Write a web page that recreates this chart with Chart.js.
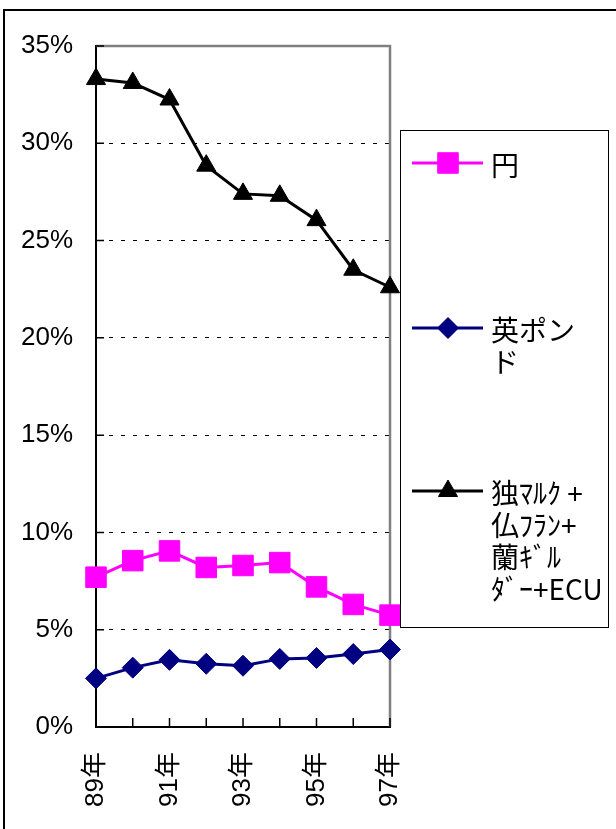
<!DOCTYPE html>
<html lang="ja">
<head>
<meta charset="UTF-8">
<title>通貨別シェア</title>
<script src="https://cdn.jsdelivr.net/npm/chart.js"></script>
<style>
  html, body { margin: 0; padding: 0; background: #fff; }
  #wrap { position: relative; width: 616px; height: 829px; overflow: hidden; }
  #frame { position: absolute; left: 3px; top: 9px; width: 700px; height: 900px; border: 2px solid #000; box-sizing: border-box; }
  #chart { position: absolute; left: 0; top: 0; }
</style>
</head>
<body>
<div id="wrap">
  <div id="frame"></div>
  <canvas id="chart" width="616" height="829"></canvas>
</div>
<script>
  const years = ['89年', '90年', '91年', '92年', '93年', '94年', '95年', '96年', '97年'];
  const yen = [7.7, 8.55, 9.05, 8.2, 8.3, 8.45, 7.2, 6.3, 5.75];
  const pound = [2.5, 3.05, 3.45, 3.25, 3.15, 3.5, 3.55, 3.75, 3.98];
  const markEtc = [33.3, 33.1, 32.25, 28.85, 27.4, 27.3, 26.05, 23.5, 22.6];
  const seriesNames = ['円', '英ポンド', '独ﾏﾙｸ +仏ﾌﾗﾝ+蘭ｷﾞﾙﾀﾞｰ+ECU'];
  const legendLines = [['円'], ['英ポン', 'ド'], ['独ﾏﾙｸ +', '仏ﾌﾗﾝ+', '蘭ｷﾞﾙ', 'ﾀﾞｰ+ECU']];
  const yMax = 35;
  const yStep = 5;

  const tickFont = { family: "'Liberation Sans', 'Noto Sans CJK JP', sans-serif", size: 26 };
  const legendFont = "28px 'Noto Sans CJK JP', sans-serif";

  // plot frame (gray top/right) and inward tick marks like Excel
  const excelFrame = {
    id: 'excelFrame',
    beforeDatasetsDraw(chart) {
      const { ctx, chartArea: a, scales } = chart;
      ctx.save();
      ctx.strokeStyle = '#808080';
      ctx.lineWidth = 2.5;
      ctx.beginPath();
      ctx.moveTo(a.left, a.top);
      ctx.lineTo(a.right, a.top);
      ctx.lineTo(a.right, a.bottom);
      ctx.stroke();

      ctx.strokeStyle = '#000';
      ctx.lineWidth = 1.5;
      ctx.beginPath();
      scales.y.ticks.forEach((t, i) => {
        const y = scales.y.getPixelForTick(i);
        ctx.moveTo(a.left, y);
        ctx.lineTo(a.left + 8, y);
      });
      scales.x.ticks.forEach((t, i) => {
        const x = scales.x.getPixelForTick(i);
        ctx.moveTo(x, a.bottom);
        ctx.lineTo(x, a.bottom - 9);
      });
      ctx.stroke();
      ctx.restore();
    }
  };

  // boxed legend with wrapped labels
  const boxLegend = {
    id: 'boxLegend',
    afterDraw(chart) {
      const { ctx } = chart;
      const itemY = [163, 328, 491];
      ctx.save();
      ctx.strokeStyle = '#000';
      ctx.lineWidth = 1;
      ctx.strokeRect(400.5, 130.5, 208, 497);
      chart.data.datasets.forEach((ds, i) => {
        const y = itemY[i];
        ctx.strokeStyle = ds.borderColor;
        ctx.lineWidth = ds.borderWidth;
        ctx.beginPath();
        ctx.moveTo(412, y);
        ctx.lineTo(483, y);
        ctx.stroke();
        ctx.fillStyle = ds.pointBackgroundColor;
        ctx.strokeStyle = ds.pointBorderColor;
        ctx.lineWidth = 1;
        Chart.helpers.drawPoint(ctx, { pointStyle: ds.pointStyle, radius: ds.pointRadius, borderWidth: 1, rotation: 0 }, 448, y);
        ctx.fillStyle = '#000';
        ctx.font = legendFont;
        ctx.textBaseline = 'middle';
        ctx.textAlign = 'left';
        legendLines[i].forEach((line, k) => {
          ctx.fillText(line, 491, y + 2 + k * 32);
        });
      });
      ctx.restore();
    }
  };

  function series(label, data, color, style, radius, width) {
    return {
      label: label,
      data: data,
      borderColor: color,
      backgroundColor: color,
      pointBackgroundColor: color,
      pointBorderColor: color,
      pointBorderWidth: 1,
      pointStyle: style,
      pointRadius: radius,
      borderWidth: width,
      tension: 0,
      clip: false
    };
  }

  new Chart(document.getElementById('chart'), {
    type: 'line',
    data: {
      labels: years,
      datasets: [
        series(seriesNames[0], yen, '#FF00FF', 'rect', 14.5, 3),
        series(seriesNames[1], pound, '#000080', 'rectRot', 10.5, 3),
        series(seriesNames[2], markEtc, '#000000', 'triangle', 11, 3)
      ]
    },
    options: {
      responsive: false,
      animation: false,
      layout: { padding: { left: 5, top: 46, right: 226, bottom: 10 } },
      plugins: {
        legend: { display: false },
        tooltip: { enabled: false }
      },
      scales: {
        x: {
          offset: false,
          grid: { display: false, drawTicks: false },
          border: { display: true, color: '#000', width: 2 },
          ticks: {
            autoSkip: false,
            minRotation: 90,
            maxRotation: 90,
            padding: 25,
            color: '#000',
            font: tickFont,
            callback: (v, i) => (i % 2 === 0 ? years[i] : '')
          },
          afterFit: s => { s.height = 829 - 727 - 10; }
        },
        y: {
          min: 0,
          max: yMax,
          grid: {
            drawTicks: false,
            lineWidth: 1,
            color: c => (c.tick && (c.tick.value === 0 || c.tick.value === yMax) ? 'rgba(0,0,0,0)' : '#000')
          },
          border: { display: true, color: '#000', width: 2, dash: [4, 8] },
          ticks: {
            stepSize: yStep,
            padding: 23,
            color: '#000',
            font: tickFont,
            callback: v => v + '%'
          },
          afterFit: s => { s.width = 96 - 5; }
        }
      }
    },
    plugins: [excelFrame, boxLegend]
  });
</script>
</body>
</html>
